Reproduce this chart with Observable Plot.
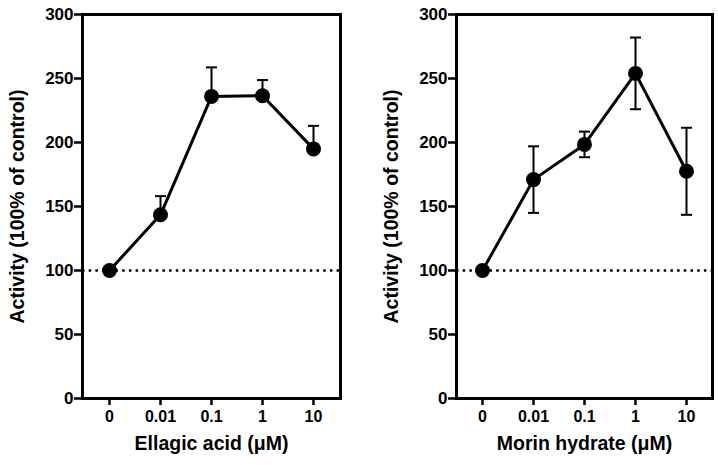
<!DOCTYPE html>
<html>
<head>
<meta charset="utf-8">
<script src="https://cdn.jsdelivr.net/npm/d3@7"></script>
<script src="https://cdn.jsdelivr.net/npm/@observablehq/plot@0.6"></script>
<style>
  html, body { margin: 0; padding: 0; background: #fff; }
  #wrap { display: flex; width: 718px; height: 465px; }
</style>
</head>
<body>
<div id="wrap"></div>
<script>
// Data
const doses = ["0", "0.01", "0.1", "1", "10"];
const yTicks = [0, 50, 100, 150, 200, 250, 300];
const ellagicMean = [100, 143.5, 236, 236.5, 195];
const ellagicErr = [0, 14.6, 22.7, 12.3, 18];
const morinMean = [100, 171, 198.5, 254, 177.5];
const morinErr = [0, 26, 10, 28, 34];
const yLabel = "Activity (100% of control)";
const ellagicLabel = "Ellagic acid (μM)";
const morinLabel = "Morin hydrate (μM)";
const baseline = 100;

const FONT = "'Liberation Sans', Arial, Helvetica, sans-serif";

// horizontal cap symbol for error bars
const capSymbol = {
  draw(context, size) {
    const r = Math.sqrt(size / Math.PI);
    context.moveTo(-r, 0);
    context.lineTo(r, 0);
  }
};

function panel({mean, err, twoSided, xLabel, marginLeft, marginRight}) {
  const rows = doses.map((d, i) => ({dose: d, mean: mean[i], err: err[i]}));
  const withErr = rows.filter(r => r.err > 0);
  return Plot.plot({
    width: 359,
    height: 465,
    marginTop: 14,
    marginBottom: 67,
    marginLeft,
    marginRight,
    style: {fontFamily: FONT, fontWeight: "bold", fontSize: "16px", color: "#000", background: "#fff", overflow: "visible"},
    x: {type: "point", domain: doses, padding: 0.5},
    y: {domain: [0, 300]},
    marks: [
      Plot.ruleY([baseline], {stroke: "#000", strokeWidth: 2.5, strokeDasharray: "2.5,4.2"}),
      Plot.ruleX(withErr, {x: "dose", y1: d => twoSided ? d.mean - d.err : d.mean, y2: d => d.mean + d.err, stroke: "#000", strokeWidth: 2}),
      Plot.dot(withErr, {x: "dose", y: d => d.mean + d.err, symbol: capSymbol, r: 5.5, stroke: "#000", strokeWidth: 2, fill: "none"}),
      twoSided ? Plot.dot(withErr, {x: "dose", y: d => d.mean - d.err, symbol: capSymbol, r: 5.5, stroke: "#000", strokeWidth: 2, fill: "none"}) : null,
      Plot.line(rows, {x: "dose", y: "mean", stroke: "#000", strokeWidth: 3}),
      Plot.dot(rows, {x: "dose", y: "mean", r: 7.5, fill: "#000", stroke: "none"}),
      Plot.axisY({ticks: yTicks, tickSize: 8, tickPadding: 1, strokeWidth: 2.5, label: null, fontSize: 17}),
      Plot.axisX({tickSize: 7, tickPadding: 5, strokeWidth: 2.5, label: null, fontSize: 16}),
      Plot.frame({stroke: "#000", strokeWidth: 3}),
      Plot.text([yLabel], {frameAnchor: "left", textAnchor: "middle", dx: -65, rotate: -90, fontSize: 19.5, fontWeight: "bold", fill: "#000"}),
      Plot.text([xLabel], {frameAnchor: "bottom", dy: 51, fontSize: 19.5, fontWeight: "bold", fill: "#000"})
    ]
  });
}

const wrap = document.getElementById("wrap");
wrap.appendChild(panel({mean: ellagicMean, err: ellagicErr, twoSided: false, xLabel: ellagicLabel, marginLeft: 82, marginRight: 19}));
wrap.appendChild(panel({mean: morinMean, err: morinErr, twoSided: true, xLabel: morinLabel, marginLeft: 97, marginRight: 6}));
</script>
</body>
</html>
